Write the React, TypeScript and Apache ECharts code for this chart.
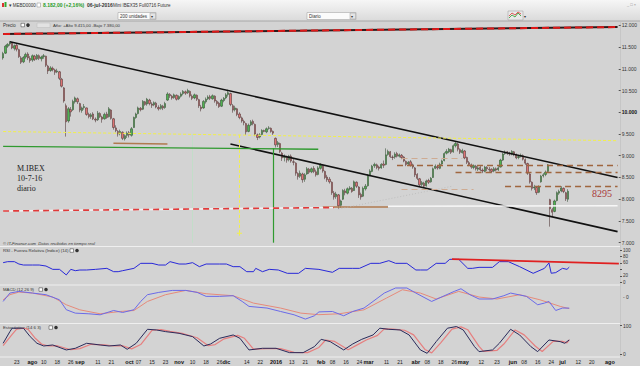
import React, { useEffect, useRef } from "react";
import * as echarts from "echarts";

// ---------- DATA ----------
// daily candles (trading days from 15-jul-2015 to 06-jul-2016): [open, close, low, high]
const candles: number[][] = [
  [11250, 11350, 11210, 11390], [11360, 11520, 11340, 11550], [11520, 11560, 11480, 11590], [11570, 11600, 11530, 11640],
  [11590, 11480, 11450, 11610], [11470, 11530, 11420, 11560], [11540, 11450, 11400, 11570], [11440, 11280, 11250, 11460],
  [11250, 11150, 11110, 11290], [11160, 11260, 11130, 11290], [11270, 11330, 11230, 11370], [11340, 11250, 11200, 11380],
  [11240, 11190, 11140, 11290], [11200, 11300, 11160, 11330], [11290, 11220, 11180, 11320], [11230, 11310, 11200, 11340],
  [11300, 11240, 11200, 11330], [11230, 11270, 11170, 11300], [11280, 11300, 11230, 11340], [11290, 11080, 11040, 11300],
  [11060, 10950, 10880, 11090], [10960, 11020, 10930, 11060], [11010, 10980, 10940, 11050], [10970, 10920, 10860, 11000],
  [10930, 10950, 10900, 11000], [10930, 10780, 10740, 10950], [10760, 10600, 10570, 10790], [10560, 10260, 10220, 10580],
  [10150, 9780, 9440, 10200], [9800, 10080, 9760, 10120], [10060, 10010, 9900, 10120], [10060, 10250, 10030, 10290],
  [10240, 10330, 10200, 10360], [10310, 10240, 10190, 10340], [10200, 10050, 10000, 10220], [10040, 10100, 9990, 10130],
  [10110, 10130, 10060, 10190], [10100, 9950, 9920, 10110], [9950, 9900, 9860, 9990], [9900, 9940, 9850, 9980],
  [9960, 9850, 9820, 10000], [9840, 9820, 9770, 9880], [9830, 9980, 9800, 10030], [9970, 9900, 9870, 10000],
  [9890, 9840, 9760, 9920], [9850, 9950, 9830, 9990], [9960, 9880, 9850, 10010], [9900, 10080, 9880, 10120],
  [10050, 9860, 9830, 10070], [9850, 9650, 9600, 9870], [9640, 9580, 9540, 9700], [9560, 9500, 9440, 9590],
  [9510, 9560, 9470, 9600], [9540, 9400, 9360, 9560], [9390, 9460, 9350, 9490], [9470, 9520, 9410, 9560],
  [9530, 9480, 9420, 9570], [9470, 9620, 9440, 9660], [9650, 9880, 9640, 9900], [9880, 9960, 9850, 9990],
  [9970, 10100, 9950, 10130], [10090, 10060, 10020, 10120], [10070, 10250, 10050, 10280], [10240, 10180, 10150, 10260],
  [10190, 10300, 10150, 10330], [10280, 10200, 10160, 10310], [10190, 10160, 10100, 10230], [10170, 10220, 10140, 10250],
  [10210, 10120, 10090, 10240], [10110, 10080, 10040, 10160], [10090, 10150, 10060, 10190], [10140, 10100, 10050, 10170],
  [10110, 10200, 10080, 10240], [10280, 10420, 10260, 10460], [10410, 10380, 10330, 10440], [10370, 10330, 10290, 10400],
  [10340, 10400, 10310, 10430], [10390, 10300, 10270, 10410], [10310, 10360, 10280, 10390], [10370, 10420, 10340, 10460],
  [10430, 10480, 10390, 10510], [10470, 10440, 10400, 10500], [10450, 10500, 10420, 10540], [10480, 10380, 10340, 10500],
  [10370, 10320, 10280, 10410], [10330, 10400, 10300, 10430], [10390, 10300, 10260, 10410], [10290, 10150, 10100, 10310],
  [10120, 10080, 10020, 10170], [10100, 10250, 10080, 10280], [10240, 10300, 10200, 10340], [10310, 10350, 10280, 10390],
  [10360, 10320, 10280, 10400], [10310, 10380, 10290, 10410], [10370, 10260, 10220, 10390], [10250, 10200, 10150, 10280],
  [10210, 10130, 10100, 10240], [10140, 10280, 10120, 10310], [10270, 10320, 10230, 10350], [10330, 10400, 10300, 10440],
  [10410, 10450, 10360, 10520], [10430, 10180, 10140, 10450], [10150, 10050, 9990, 10190], [10060, 10100, 10020, 10150],
  [10080, 9950, 9910, 10100], [9960, 9880, 9840, 10000], [9870, 9800, 9760, 9900], [9790, 9760, 9700, 9830],
  [9740, 9550, 9480, 9760], [9560, 9700, 9540, 9740], [9710, 9780, 9680, 9820], [9790, 9740, 9700, 9830],
  [9720, 9500, 9450, 9740], [9480, 9420, 9360, 9510], [9430, 9480, 9400, 9520], [9490, 9580, 9470, 9610],
  [9580, 9560, 9540, 9600], [9550, 9620, 9520, 9650], [9630, 9640, 9600, 9680], [9630, 9560, 9530, 9650],
  [9560, 9520, 9480, 9580], [9400, 9250, 9190, 9420], [9260, 9300, 9200, 9340], [9280, 9100, 9060, 9300],
  [9060, 8950, 8880, 9090], [8960, 8980, 8870, 9030], [8970, 8900, 8840, 9000], [8910, 8990, 8870, 9020],
  [8990, 8880, 8840, 9030], [8860, 8850, 8780, 8920], [8830, 8600, 8540, 8850], [8590, 8520, 8450, 8620],
  [8530, 8600, 8490, 8660], [8580, 8450, 8380, 8610], [8460, 8560, 8400, 8600], [8580, 8700, 8560, 8740],
  [8690, 8620, 8580, 8720], [8630, 8700, 8600, 8730], [8710, 8640, 8600, 8760], [8630, 8560, 8520, 8680],
  [8570, 8720, 8550, 8760], [8710, 8780, 8680, 8830], [8760, 8650, 8610, 8790], [8640, 8500, 8460, 8660],
  [8510, 8450, 8400, 8560], [8460, 8400, 8360, 8510], [8390, 8150, 8100, 8410], [8140, 8050, 7990, 8190],
  [8060, 8120, 8010, 8170], [8100, 7850, 7780, 8120], [7860, 7960, 7800, 7990], [8000, 8200, 7980, 8230],
  [8190, 8150, 8090, 8240], [8140, 8240, 8110, 8270], [8230, 8260, 8200, 8300], [8250, 8180, 8150, 8280],
  [8200, 8400, 8190, 8430], [8390, 8300, 8260, 8410], [8280, 8100, 8030, 8300], [8110, 8050, 7990, 8150],
  [8070, 8250, 8050, 8290], [8240, 8300, 8200, 8350], [8310, 8550, 8290, 8580], [8560, 8650, 8530, 8690],
  [8640, 8760, 8620, 8790], [8770, 8800, 8720, 8840], [8790, 8730, 8690, 8820], [8740, 8710, 8660, 8770],
  [8720, 8800, 8700, 8830], [8810, 8780, 8720, 8890], [8800, 9020, 8780, 9170], [9030, 9100, 9000, 9140],
  [9090, 8980, 8950, 9110], [8970, 8960, 8900, 9010], [8970, 9040, 8930, 9080], [9050, 8990, 8960, 9090],
  [8990, 9020, 8960, 9050], [9010, 8960, 8920, 9040], [8970, 8880, 8850, 8990], [8870, 8800, 8760, 8890],
  [8810, 8850, 8780, 8880], [8860, 8780, 8750, 8900], [8790, 8740, 8700, 8820], [8720, 8560, 8510, 8740],
  [8570, 8480, 8440, 8600], [8470, 8330, 8290, 8490], [8340, 8380, 8300, 8420], [8370, 8300, 8260, 8400],
  [8310, 8420, 8290, 8450], [8430, 8390, 8350, 8470], [8400, 8480, 8380, 8510], [8500, 8700, 8490, 8730],
  [8710, 8760, 8690, 8800], [8750, 8720, 8680, 8780], [8710, 8800, 8690, 8840], [8810, 8880, 8790, 8910],
  [8890, 9050, 8870, 9080], [9060, 9100, 9030, 9150], [9090, 9150, 9060, 9180], [9140, 9080, 9040, 9160],
  [9090, 9230, 9070, 9260], [9230, 9280, 9190, 9330], [9270, 9150, 9100, 9300], [9140, 9080, 9040, 9170],
  [9070, 9120, 9050, 9160], [9110, 8950, 8920, 9130], [8960, 8850, 8810, 8980], [8840, 8800, 8760, 8880],
  [8790, 8740, 8700, 8820], [8730, 8770, 8690, 8800], [8760, 8700, 8660, 8790], [8690, 8720, 8650, 8760],
  [8730, 8680, 8640, 8770], [8670, 8650, 8600, 8710], [8640, 8740, 8620, 8770], [8730, 8700, 8650, 8760],
  [8690, 8680, 8630, 8740], [8690, 8640, 8600, 8710], [8650, 8700, 8620, 8740], [8700, 8670, 8640, 8730],
  [8680, 8720, 8650, 8760], [8740, 8900, 8730, 8930], [8900, 9040, 8880, 9070], [9050, 9080, 9020, 9120],
  [9090, 9060, 9020, 9110], [9060, 9040, 9000, 9090], [9040, 9100, 9010, 9130], [9090, 9030, 8990, 9110],
  [9020, 8950, 8920, 9050], [8960, 8980, 8920, 9020], [8990, 9010, 8960, 9050], [9000, 8920, 8890, 9030],
  [8910, 8830, 8790, 8940], [8820, 8600, 8560, 8840], [8580, 8400, 8360, 8600], [8390, 8250, 8200, 8410],
  [8260, 8280, 8210, 8330], [8270, 8150, 8100, 8290], [8160, 8280, 8140, 8320], [8400, 8530, 8380, 8560],
  [8540, 8560, 8500, 8600], [8570, 8620, 8530, 8660], [8640, 8790, 8620, 8810], [7990, 7780, 7370, 8010],
  [7760, 7700, 7600, 7800], [7720, 7960, 7700, 7990], [7970, 8150, 7950, 8180], [8140, 8180, 8100, 8220],
  [8190, 8260, 8160, 8300], [8250, 8180, 8140, 8270], [8150, 8010, 7960, 8170], [8000, 8182, 7940, 8230],
];
const lastPrice = 8182;

// bottom axis ticks (trading-day index -> label)
const tickIdx = [6, 13, 18, 24, 30, 34, 42, 48, 56, 60, 66, 72, 78, 84, 90, 96, 99, 108, 114, 121, 128, 134, 141, 146, 152, 158, 162, 170, 176, 183, 188, 194, 200, 204, 212, 219, 226, 231, 237, 243, 248, 255, 261, 269];
const tickText = ["23", "ago", "10", "18", "26", "sep", "11", "21", "oct", "07", "15", "23", "nov", "10", "18", "26", "dic", "14", "22", "2016", "13", "21", "feb", "08", "16", "24", "mar", "11", "21", "abr", "08", "18", "26", "may", "12", "23", "jun", "08", "16", "24", "jul", "12", "20", "ago"];
const boldTicks = ["ago", "sep", "oct", "nov", "dic", "2016", "feb", "mar", "abr", "may", "jun", "jul"];
const totalDays = 274;

// RSI (14)
const rsiIdx = [0, 2, 5, 7, 9, 13, 16, 19, 22, 25, 28, 30, 32, 34, 37, 41, 46, 49, 51, 53, 58, 61, 66, 69, 72, 74, 78, 81, 84, 87, 90, 96, 99, 102, 105, 108, 111, 112, 115, 118, 122, 126, 131, 134, 140, 146, 149, 155, 158, 163, 167, 171, 174, 179, 183, 185, 188, 192, 196, 198, 202, 206, 208, 211, 217, 220, 224, 229, 235, 240, 242, 243, 245, 248, 250, 251];
const rsiVal = [60.8, 63.9, 63.9, 56.6, 53.5, 53.5, 53.5, 50.4, 40.1, 40.1, 22.7, 40.1, 36, 38, 38.1, 40.1, 43.2, 32.9, 32.9, 36, 43.2, 58.7, 58.7, 53.5, 53.5, 63.9, 56.6, 56.6, 60.8, 48.4, 56.6, 56.6, 56.6, 48.4, 48.4, 32.9, 32.9, 43.2, 32.9, 40.1, 38.1, 27.8, 27.8, 43.2, 40, 30.9, 43.2, 43.2, 43.2, 58.7, 58.7, 67, 58.7, 58.7, 38.1, 38.1, 38.1, 58.7, 58.7, 71.1, 71.1, 43.2, 43.2, 46.3, 46.3, 63.9, 63.9, 48.4, 27.8, 43.2, 60, 28, 30, 43.2, 40.1, 46.97];
const rsiTrend = [[199, 72], [273, 57.6]];

// MACD (12 26 9)
const macdIdx = [0, 3, 7, 13, 19, 25, 28, 32, 38, 43, 49, 53, 58, 61, 64, 69, 75, 81, 86, 90, 96, 102, 106, 109, 117, 123, 129, 134, 138, 140, 146, 151, 155, 160, 164, 169, 174, 179, 183, 190, 195, 200, 203, 207, 211, 217, 222, 225, 232, 237, 240, 242, 245, 248, 251];
const macdVal = [-40, 36, 51, 36, 21, -25, -115, -146, -152, -161, -122, -140, -115, -40, 21, 42, 60, 60, 42, 6, 6, 12, -40, -85, -100, -131, -161, -200, -170, -135, -131, -170, -131, -100, -40, 36, 82, 82, 36, -40, 6, 51, 75, 21, -18, -18, 12, 36, 6, -70, -55, -40, -122, -100, -100.39];
const signalIdx = [0, 3, 7, 13, 22, 28, 34, 43, 52, 58, 64, 72, 81, 90, 102, 111, 123, 132, 140, 149, 160, 170, 177, 185, 192, 202, 211, 219, 229, 238, 247, 251];
const signalVal = [-25, 21, 45, 36, 0, -70, -116, -152, -131, -122, -40, 21, 60, 30, 12, -55, -100, -146, -160, -152, -116, -9, 66, 36, -18, 51, 0, -18, 21, -25, -85, -105.33];

// Estocástico (14 6 3)
const stochKIdx = [0, 3, 4, 7, 9, 12, 15, 18, 22, 28, 32, 37, 43, 47, 52, 55, 59, 64, 68, 72, 78, 84, 89, 92, 96, 102, 105, 109, 115, 121, 127, 133, 138, 141, 145, 151, 155, 159, 164, 167, 171, 176, 180, 185, 188, 192, 197, 201, 204, 209, 211, 217, 220, 225, 229, 234, 237, 242, 247, 249, 251];
const stochKVal = [38.5, 79.3, 91.3, 91.3, 91.3, 61.8, 38.5, 29.1, 32.6, 15.2, 21, 38.5, 32.6, 29.1, 32.6, 17.5, 38.5, 87.4, 85.1, 79.3, 73.4, 61.8, 29.1, 36.1, 56, 67.6, 56, 15.2, 21, 21, 5.8, 5.8, 26.8, 52.4, 44.3, 15.2, 36.1, 52.4, 67.6, 91.3, 87.4, 85.1, 67.6, 15.2, 3.5, 44.3, 91.3, 97.1, 85.1, 26.8, 9.3, 15.2, 38.5, 87.4, 67.6, 26.8, 9.3, 50.1, 44.3, 38.5, 50.28];
const stochDIdx = [0, 4, 6, 9, 11, 14, 17, 20, 24, 30, 34, 39, 45, 49, 53, 57, 61, 66, 70, 74, 80, 86, 91, 94, 98, 104, 107, 111, 117, 123, 129, 135, 140, 143, 147, 153, 157, 161, 166, 169, 173, 178, 182, 187, 190, 194, 199, 203, 206, 211, 213, 219, 222, 227, 231, 236, 239, 244, 248, 250, 251];
const stochDVal = [30, 70, 88, 91, 88, 58, 36, 29, 30, 16, 20, 35, 33, 29, 30, 19, 34, 84, 86, 80, 72, 58, 30, 34, 54, 66, 56, 18, 20, 20, 7, 6, 24, 50, 45, 16, 33, 50, 66, 89, 88, 84, 68, 17, 5, 40, 88, 96, 86, 28, 10, 14, 36, 85, 68, 28, 10, 46, 45, 40, 50.1];

// drawn studies on the price panel: [[dayIndex, price], [dayIndex, price]]
const channelLines = [[[3, 11620], [273, 8500]], [[101, 9270], [273, 7255]]];
const redTopLine = [[0, 11800], [273, 11960]];
const yellowLine = [[0, 9557], [273, 9346]];
const yellowVertical = [[105, 9480], [105, 7216]];
const paleVertical = [[84, 9500], [84, 7000]];
const greenHorizontal = [[0, 9215], [140, 9150]];
const greenVertical = [[120, 9170], [120, 7000]];
const brownSolid = [[[49, 9285], [73, 9270]], [[142, 7828], [171, 7828]]];
const redWhiteDashed = [[0, 7729], [147, 7809]];
const whiteLine = [[171, 7840], [273, 7850]];
const greyDotted = [[149, 7775], [200, 8304]];
const brownDashed = [[[175, 8787], [273, 8787]], [[201, 8619], [273, 8619]], [[223, 8304], [273, 8304]]];
const tanDashed = [[[177, 8941], [204, 8941]], [[177, 8230], [209, 8230]]];

// ---------- helpers ----------
const fmtThousands = (v: number) => {
  const th = Math.floor(v / 1000);
  const r = String(Math.round(v % 1000)).padStart(3, "0");
  return th > 0 ? `${th}.${r}` : String(v);
};
const pairs = (idx: number[], val: number[]) => idx.map((d, i) => [d, val[i]]);
const seg = (p: number[][], lineStyle: any) => [
  { coord: p[0], lineStyle },
  { coord: p[1] },
];

const FONT = "Liberation Sans";

export default function App() {
  const ref = useRef<HTMLDivElement>(null);

  useEffect(() => {
    if (!ref.current) return;
    const chart = echarts.init(ref.current, undefined, { renderer: "svg" });

    const labelOf: Record<number, string> = {};
    tickIdx.forEach((d, i) => (labelOf[d] = tickText[i]));
    const cats = Array.from({ length: totalDays }, (_, i) => String(i));

    const grids = [
      { left: 2, right: 20, top: 25.3, height: 217.4 },
      { left: 2, right: 20, top: 250, height: 32.3 },
      { left: 2, right: 20, top: 286, height: 37.5 },
      { left: 2, right: 20, top: 325.7, height: 28.6 },
    ];

    const xAxes = grids.map((_, i) => ({
      type: "category",
      gridIndex: i,
      data: cats,
      boundaryGap: true,
      axisLine: { show: false },
      axisTick: { show: false },
      axisLabel:
        i === 3
          ? {
              show: true,
              interval: 0,
              margin: 5,
              fontSize: 5,
              fontFamily: FONT,
              color: "#222",
              formatter: (_v: string, idx: number) => {
                const t = labelOf[idx];
                if (!t) return "";
                return boldTicks.includes(t) ? `{b|${t}}` : t;
              },
              rich: { b: { fontWeight: "bold", fontSize: 5.5, fontFamily: FONT, color: "#111" } },
            }
          : { show: false },
      splitLine: { show: false },
    }));

    const axisLabelBase = { fontSize: 5, fontFamily: FONT, color: "#333", margin: 3 };
    const yAxes = [
      {
        type: "value",
        gridIndex: 0,
        position: "right",
        min: 7000,
        max: 12000,
        interval: 500,
        axisLine: { show: false },
        axisTick: { show: true, length: 2, lineStyle: { color: "#555" } },
        splitLine: { show: false },
        axisLabel: {
          ...axisLabelBase,
          formatter: (v: number) => (v === 10000 ? `{b|${fmtThousands(v)}}` : fmtThousands(v)),
          rich: { b: { fontWeight: "bold", fontSize: 5, fontFamily: FONT, color: "#111" } },
        },
      },
      {
        type: "value",
        gridIndex: 1,
        position: "right",
        min: 0,
        max: 100,
        interval: 20,
        axisLine: { show: false },
        axisTick: { show: true, length: 2, lineStyle: { color: "#555" } },
        splitLine: { show: false },
        axisLabel: { ...axisLabelBase, fontSize: 4.5, formatter: (v: number) => (v === 40 ? "" : String(v)) },
      },
      {
        type: "value",
        gridIndex: 2,
        position: "right",
        min: -240,
        max: 100,
        interval: 20,
        axisLine: { show: false },
        axisTick: { show: false },
        splitLine: { show: false },
        axisLabel: { ...axisLabelBase, formatter: (v: number) => (v === 0 ? "- 0" : "") },
      },
      {
        type: "value",
        gridIndex: 3,
        position: "right",
        min: 0,
        max: 100,
        interval: 100,
        axisLine: { show: false },
        axisTick: { show: true, length: 2, lineStyle: { color: "#555" } },
        splitLine: { show: false },
        axisLabel: { ...axisLabelBase },
      },
    ];

    const valueTag = (value: number, text: string, bg: string, color: string, border: string, offsetY = 0) => ({
      yAxis: value,
      lineStyle: { opacity: 0 },
      label: {
        show: true,
        position: "end",
        distance: 1,
        formatter: text,
        fontSize: 4.6,
        fontFamily: FONT,
        color,
        backgroundColor: bg,
        borderColor: border,
        borderWidth: 0.5,
        padding: [0.5, 1, 0, 1],
        offset: [0, offsetY],
      },
    });

    const black = { color: "#111", width: 1.6, type: "solid" };
    const priceMarks: any[] = [
      seg(redTopLine, { color: "#2a1a1a", width: 2, type: "solid" }),
      seg(redTopLine, { color: "#e01818", width: 2, type: [7, 4] }),
      ...channelLines.map((l) => seg(l, black)),
      seg(yellowLine, { color: "#f2f04a", width: 1, type: [3, 2] }),
      seg(yellowVertical, { color: "#f2f04a", width: 1, type: [3, 2] }),
      seg(paleVertical, { color: "#bfe0c6", width: 0.8, type: "solid" }),
      seg(greenHorizontal, { color: "#2f9a2f", width: 1.4, type: "solid" }),
      seg(greenVertical, { color: "#2f9a2f", width: 1.2, type: "solid" }),
      ...brownSolid.map((l) => seg(l, { color: "#b07a4e", width: 1.5, type: "solid" })),
      seg(redWhiteDashed, { color: "#f2f2f2", width: 1.6, type: "solid" }),
      seg(redWhiteDashed, { color: "#e03a3a", width: 1.6, type: [6, 4] }),
      seg(whiteLine, { color: "#f7f7f7", width: 1.6, type: "solid" }),
      seg(greyDotted, { color: "#b9b9b9", width: 0.8, type: [1, 2] }),
      ...brownDashed.map((l) => seg(l, { color: "#a0663f", width: 1.4, type: [6, 4] })),
      ...tanDashed.map((l) => seg(l, { color: "#ceab92", width: 1.2, type: [6, 4] })),
      valueTag(lastPrice, "8.182,00", "#f2d64a", "#222", "#c9a820"),
    ];

    const option: any = {
      animation: false,
      backgroundColor: "#d3d3d3",
      grid: grids,
      xAxis: xAxes,
      yAxis: yAxes,
      series: [
        {
          type: "candlestick",
          xAxisIndex: 0,
          yAxisIndex: 0,
          data: candles,
          barWidth: "80%",
          silent: true,
          itemStyle: {
            color: "#4fb34f",
            color0: "#de7373",
            borderColor: "#2f4a2f",
            borderColor0: "#4a2f2f",
            borderWidth: 0.55,
          },
          markLine: {
            silent: true,
            symbol: ["none", "none"],
            animation: false,
            label: { show: false },
            data: priceMarks,
          },
          markPoint: {
            silent: true,
            data: [
              {
                coord: yellowVertical[1],
                symbol: "path://M2,0H3V2H5V3H3V5H2V3H0V2H2Z",
                symbolSize: 5,
                itemStyle: { color: "#f2f04a" },
                label: { show: false },
              },
            ],
          },
        },
        {
          type: "line",
          xAxisIndex: 1,
          yAxisIndex: 1,
          data: pairs(rsiIdx, rsiVal),
          showSymbol: false,
          silent: true,
          lineStyle: { color: "#2828d8", width: 1 },
          markLine: {
            silent: true,
            symbol: ["none", "none"],
            label: { show: false },
            data: [
              seg(rsiTrend, { color: "#e02020", width: 1.8, type: "solid" }),
              valueTag(46.97, "46,974", "#dfe3ff", "#2828d8", "#2828d8", 2),
            ],
          },
        },
        {
          type: "line",
          xAxisIndex: 2,
          yAxisIndex: 2,
          data: pairs(signalIdx, signalVal),
          showSymbol: false,
          silent: true,
          lineStyle: { color: "#e68a7a", width: 1 },
          markLine: {
            silent: true,
            symbol: ["none", "none"],
            data: [valueTag(-105.33, "-105,33", "#ffe3e0", "#d05050", "#d05050", 4)],
          },
        },
        {
          type: "line",
          xAxisIndex: 2,
          yAxisIndex: 2,
          data: pairs(macdIdx, macdVal),
          showSymbol: false,
          silent: true,
          lineStyle: { color: "#6a6ae8", width: 1 },
          markLine: {
            silent: true,
            symbol: ["none", "none"],
            data: [valueTag(-100.39, "-100,39", "#e3e3ff", "#3a3ad0", "#3a3ad0", -3)],
          },
        },
        {
          type: "line",
          xAxisIndex: 3,
          yAxisIndex: 3,
          data: pairs(stochDIdx, stochDVal),
          showSymbol: false,
          silent: true,
          lineStyle: { color: "#e67f7f", width: 1.2 },
          markLine: {
            silent: true,
            symbol: ["none", "none"],
            data: [valueTag(50.1, "50,099", "#ffe3e0", "#d05050", "#d05050", 5)],
          },
        },
        {
          type: "line",
          xAxisIndex: 3,
          yAxisIndex: 3,
          data: pairs(stochKIdx, stochKVal),
          showSymbol: false,
          silent: true,
          lineStyle: { color: "#2a2a5a", width: 1 },
          markLine: {
            silent: true,
            symbol: ["none", "none"],
            data: [valueTag(50.28, "50,284", "#e3e3ff", "#2a2a6a", "#2a2a6a", -1)],
          },
        },
      ],
      graphic: [
        // toolbar
        {
          type: "rect",
          shape: { x: 0, y: 0, width: 640, height: 21 },
          style: {
            fill: new echarts.graphic.LinearGradient(0, 0, 0, 1, [
              { offset: 0, color: "#f6f6f6" },
              { offset: 1, color: "#dadada" },
            ]),
          },
          silent: true,
          z: -1,
        },
        { type: "line", shape: { x1: 0, y1: 21, x2: 640, y2: 21 }, style: { stroke: "#a8a8a8", lineWidth: 1 }, silent: true },
        { type: "rect", shape: { x: 2, y: 3, width: 2, height: 4 }, style: { fill: "#d33" }, silent: true },
        { type: "rect", shape: { x: 4.5, y: 2, width: 2, height: 5 }, style: { fill: "#3a3" }, silent: true },
        { type: "text", x: 8.5, y: 5, style: { text: "▾ MEBD0000", font: `4.5px ${FONT}`, fill: "#333", verticalAlign: "middle" }, silent: true },
        { type: "rect", shape: { x: 37, y: 3, width: 3.5, height: 4 }, style: { fill: "#fff", stroke: "#888", lineWidth: 0.5 }, silent: true },
        { type: "text", x: 43, y: 5, style: { text: "8.182,00 (+2,16%)", font: `bold 5px ${FONT}`, fill: "#1f9a1f", verticalAlign: "middle" }, silent: true },
        { type: "text", x: 87, y: 5, style: { text: "06-jul-2016", font: `bold 5px ${FONT}`, fill: "#333", verticalAlign: "middle" }, silent: true },
        { type: "text", x: 113, y: 5, style: { text: "Mini IBEX35 Full0716 Future", font: `4.5px ${FONT}`, fill: "#333", verticalAlign: "middle" }, silent: true },
        { type: "text", x: 627, y: 4, style: { text: "_ □ ×", font: `4px ${FONT}`, fill: "#888", verticalAlign: "middle" }, silent: true },
        { type: "rect", shape: { x: 118, y: 12.5, width: 38, height: 7 }, style: { fill: "#fbfbfb", stroke: "#9a9a9a", lineWidth: 0.5 }, silent: true },
        { type: "text", x: 120, y: 16, style: { text: "200 unidades", font: `4.5px ${FONT}`, fill: "#333", verticalAlign: "middle" }, silent: true },
        { type: "rect", shape: { x: 150, y: 13, width: 5.5, height: 6 }, style: { fill: "#e4e4e4", stroke: "#9a9a9a", lineWidth: 0.5 }, silent: true },
        { type: "text", x: 151.2, y: 16, style: { text: "▾", font: `4px ${FONT}`, fill: "#333", verticalAlign: "middle" }, silent: true },
        { type: "rect", shape: { x: 307, y: 12.5, width: 49, height: 7 }, style: { fill: "#fbfbfb", stroke: "#9a9a9a", lineWidth: 0.5 }, silent: true },
        { type: "text", x: 309, y: 16, style: { text: "Diario", font: `4.5px ${FONT}`, fill: "#333", verticalAlign: "middle" }, silent: true },
        { type: "rect", shape: { x: 350, y: 13, width: 5.5, height: 6 }, style: { fill: "#e4e4e4", stroke: "#9a9a9a", lineWidth: 0.5 }, silent: true },
        { type: "text", x: 351.2, y: 16, style: { text: "▾", font: `4px ${FONT}`, fill: "#333", verticalAlign: "middle" }, silent: true },
        { type: "rect", shape: { x: 508, y: 11, width: 15, height: 9 }, style: { fill: "#e9e9e9", stroke: "#9a9a9a", lineWidth: 0.5 }, silent: true },
        { type: "polyline", shape: { points: [[509, 18], [512, 15], [515, 17], [518, 13], [521, 16]] }, style: { stroke: "#2a9a2a", lineWidth: 0.8, fill: null }, silent: true },
        { type: "polyline", shape: { points: [[509, 16], [512, 13], [515, 15], [518, 12], [521, 14]] }, style: { stroke: "#d33", lineWidth: 0.8, fill: null }, silent: true },
        { type: "text", x: 523.5, y: 16, style: { text: "▾", font: `4px ${FONT}`, fill: "#333", verticalAlign: "middle" }, silent: true },
        // panel headers
        { type: "text", x: 3, y: 25.3, style: { text: "Precio", font: `4.5px ${FONT}`, fill: "#333", verticalAlign: "middle" }, silent: true },
        { type: "rect", shape: { x: 21, y: 23.3, width: 3.5, height: 3.5 }, style: { fill: "#fff", stroke: "#333", lineWidth: 0.5 }, silent: true },
        { type: "circle", shape: { cx: 28, cy: 25.1, r: 1.8 }, style: { fill: "#333" }, silent: true },
        { type: "rect", shape: { x: 37, y: 23, width: 13, height: 4.5 }, style: { fill: "#e2e2e2", stroke: "#bbb", lineWidth: 0.5 }, silent: true },
        { type: "text", x: 53, y: 25.3, style: { text: "Año: +Alto 9.415,00 -Bajo 7.380,00", font: `4.3px ${FONT}`, fill: "#333", verticalAlign: "middle" }, silent: true },
        { type: "text", x: 3, y: 243.5, style: { text: "© IT-Finance.com  Datos recibidos en tiempo real", font: `italic 4.2px ${FONT}`, fill: "#333", verticalAlign: "middle" }, silent: true },
        { type: "line", shape: { x1: 0, y1: 246.5, x2: 620, y2: 246.5 }, style: { stroke: "#efefef", lineWidth: 1 }, silent: true },
        { type: "text", x: 3, y: 250.5, style: { text: "RSI - Fuerza Relativa (Indice) (14)", font: `4.3px ${FONT}`, fill: "#333", verticalAlign: "middle" }, silent: true },
        { type: "rect", shape: { x: 70, y: 248.8, width: 3.5, height: 3.5 }, style: { fill: "#fff", stroke: "#333", lineWidth: 0.5 }, silent: true },
        { type: "circle", shape: { cx: 77, cy: 250.5, r: 1.8 }, style: { fill: "#333" }, silent: true },
        { type: "line", shape: { x1: 0, y1: 285, x2: 620, y2: 285 }, style: { stroke: "#efefef", lineWidth: 1 }, silent: true },
        { type: "text", x: 3, y: 289.5, style: { text: "MACD (12 26 9)", font: `4.3px ${FONT}`, fill: "#333", verticalAlign: "middle" }, silent: true },
        { type: "rect", shape: { x: 39, y: 287.8, width: 3.5, height: 3.5 }, style: { fill: "#fff", stroke: "#333", lineWidth: 0.5 }, silent: true },
        { type: "circle", shape: { cx: 46, cy: 289.5, r: 1.8 }, style: { fill: "#333" }, silent: true },
        { type: "line", shape: { x1: 0, y1: 323.5, x2: 620, y2: 323.5 }, style: { stroke: "#efefef", lineWidth: 1 }, silent: true },
        { type: "text", x: 3, y: 327.5, style: { text: "Estocástico (14 6 3)", font: `4.3px ${FONT}`, fill: "#333", verticalAlign: "middle" }, silent: true },
        { type: "rect", shape: { x: 49, y: 325.8, width: 3.5, height: 3.5 }, style: { fill: "#fff", stroke: "#333", lineWidth: 0.5 }, silent: true },
        { type: "circle", shape: { cx: 56, cy: 327.5, r: 1.8 }, style: { fill: "#333" }, silent: true },
        { type: "line", shape: { x1: 0, y1: 357, x2: 620, y2: 357 }, style: { stroke: "#efefef", lineWidth: 1 }, silent: true },
        { type: "line", shape: { x1: 620.5, y1: 22, x2: 620.5, y2: 357 }, style: { stroke: "#bdbdbd", lineWidth: 0.6 }, silent: true },
        // annotations
        { type: "text", x: 17, y: 168, style: { text: "M.IBEX", font: `8px "Liberation Serif"`, fill: "#222", verticalAlign: "middle" }, silent: true },
        { type: "text", x: 17, y: 178, style: { text: "10-7-16", font: `8px "Liberation Serif"`, fill: "#222", verticalAlign: "middle" }, silent: true },
        { type: "text", x: 17, y: 188, style: { text: "diario", font: `8px "Liberation Serif"`, fill: "#222", verticalAlign: "middle" }, silent: true },
        { type: "text", x: 592, y: 193.5, style: { text: "8295", font: `10px "Liberation Serif"`, fill: "#a83a3a", verticalAlign: "middle" }, silent: true },
      ],
    };

    chart.setOption(option);
    return () => chart.dispose();
  }, []);

  return (
    <div
      ref={ref}
      style={{ position: "absolute", left: 0, top: 0, width: 640, height: 366 }}
    />
  );
}
